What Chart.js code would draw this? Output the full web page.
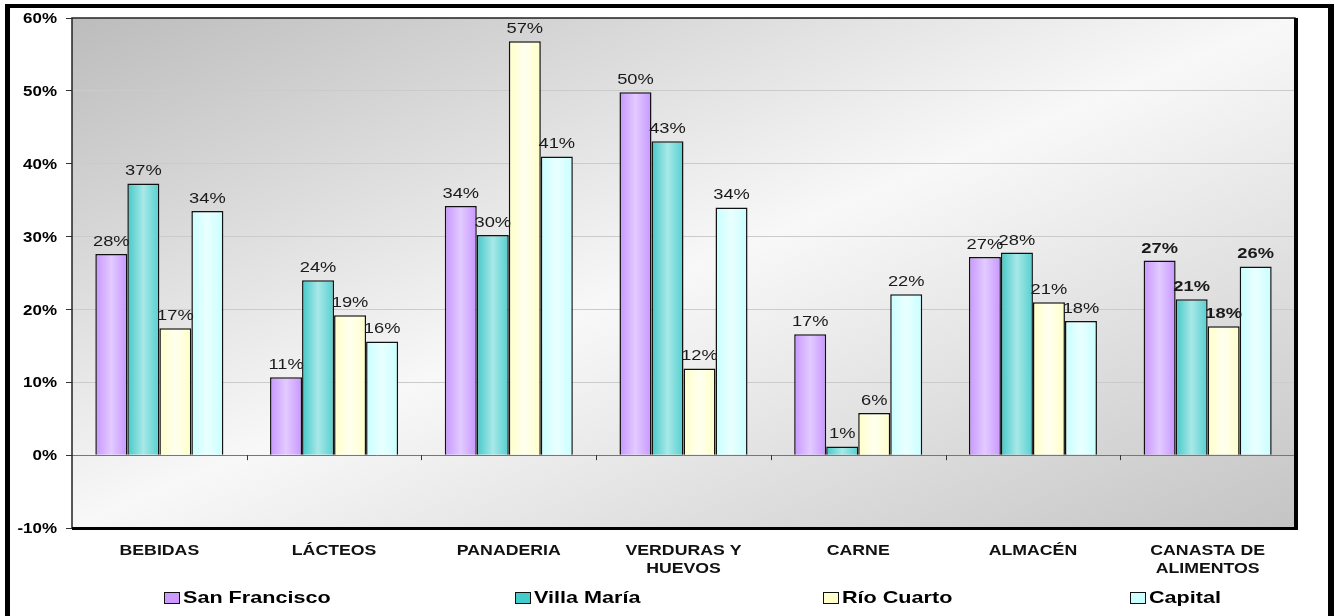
<!DOCTYPE html>
<html>
<head>
<meta charset="utf-8">
<script src="https://cdn.jsdelivr.net/npm/chart.js@4.4.1/dist/chart.umd.min.js"></script>
<style>
  body { margin: 0; background: #fff; font-family: "Liberation Sans", Arial, sans-serif; }
  #frame { position: absolute; left: 5px; top: 4px; width: 1318px; height: 620px;
           border-left: 5px solid #000; border-top: 4px solid #000; border-right: 6px solid #000; }
  #box { position: absolute; left: 0; top: 0; width: 1317px; height: 608px; }
  .item { position: absolute; top: 580px; height: 20px; display: flex; align-items: center;
          font-weight: bold; font-size: 17px; color: #000; white-space: nowrap; }
  .item:nth-child(1) { left: 154px; }
  .item:nth-child(2) { left: 505px; }
  .item:nth-child(3) { left: 813px; }
  .item:nth-child(4) { left: 1120px; }
  .sw { width: 14px; height: 10px; border: 1.6px solid #111; margin-right: 3px; }
  .tx { display: inline-block; transform: scaleX(1.27); transform-origin: left center; }
</style>
</head>
<body>
<div id="frame">
  <div id="box"><canvas id="grafico"></canvas></div>
  <div id="legend"></div>
</div>
<script>
// Datos del gráfico
const categorias = ["BEBIDAS", "LÁCTEOS", "PANADERIA", ["VERDURAS Y", "HUEVOS"], "CARNE", "ALMACÉN", ["CANASTA DE", "ALIMENTOS"]];
const sanFrancisco = [27.6, 10.7, 34.2, 49.8, 16.6, 27.2, 26.7];
const villaMaria   = [37.3, 24.0, 30.2, 43.1, 1.2, 27.8, 21.4];
const rioCuarto    = [17.4, 19.2, 56.8, 11.9, 5.8, 21.0, 17.7];
const capital      = [33.5, 15.6, 41.0, 34.0, 22.1, 18.4, 25.9];
const ticksY = [-10, 0, 10, 20, 30, 40, 50, 60];

const series = [
  { nombre: "San Francisco", datos: sanFrancisco, color: "#cc99ff", grad: ["#c896ff", "#e2cbff", "#c896ff"] },
  { nombre: "Villa María", datos: villaMaria, color: "#44cccc", grad: ["#44c8c8", "#a8e8e8", "#55cfcf"] },
  { nombre: "Río Cuarto", datos: rioCuarto, color: "#ffffcc", grad: ["#ffffc8", "#fffff0", "#ffffc8"] },
  { nombre: "Capital", datos: capital, color: "#ccffff", grad: ["#c8ffff", "#eaffff", "#c8ffff"] }
];

const FUENTE = '"Liberation Sans", Arial, sans-serif';

// leyenda en html
const legend = document.getElementById("legend");
series.forEach(s => {
  const d = document.createElement("div");
  d.className = "item";
  d.innerHTML = `<span class="sw" style="background:${s.color}"></span><span class="tx">${s.nombre}</span>`;
  legend.appendChild(d);
});

// texto estirado a lo ancho (el original está escalado horizontalmente)
function texto(ctx, s, x, y, align, font, sx) {
  ctx.save();
  ctx.translate(x, y);
  ctx.scale(sx, 1);
  ctx.font = font;
  ctx.textAlign = align;
  ctx.fillText(s, 0, 0);
  ctx.restore();
}

const fondoPlugin = {
  id: "fondo",
  beforeDraw(chart) {
    // fondo degradado del área de trazado
    const { ctx, chartArea: a } = chart;
    const W = a.right - a.left, H = a.bottom - a.top;
    const cx = a.left + W / 2, cy = a.top + H / 2;
    const k = (W * H) / (H * H + W * W);
    const g = ctx.createLinearGradient(cx - k * H, cy - k * W, cx + k * H, cy + k * W);
    g.addColorStop(0, "#bcbcbc");
    g.addColorStop(0.5, "#f8f8f8");
    g.addColorStop(1, "#c4c4c4");
    ctx.save();
    ctx.fillStyle = g;
    ctx.fillRect(a.left, a.top, W, H);
    ctx.restore();
  },
  beforeDatasetsDraw(chart) {
    // degradado horizontal en cada barra
    const ctx = chart.ctx;
    chart.data.datasets.forEach((ds, i) => {
      chart.getDatasetMeta(i).data.forEach(el => {
        const g = ctx.createLinearGradient(el.x - el.width / 2, 0, el.x + el.width / 2, 0);
        g.addColorStop(0, series[i].grad[0]);
        g.addColorStop(0.5, series[i].grad[1]);
        g.addColorStop(1, series[i].grad[2]);
        el.options.backgroundColor = g;
      });
    });
  },
  afterDatasetsDraw(chart) {
    const { ctx, chartArea: a, scales } = chart;
    ctx.save();
    ctx.textBaseline = "alphabetic";
    ctx.fillStyle = "#1a1a1a";
    // etiquetas de valores
    chart.data.datasets.forEach((ds, i) => {
      chart.getDatasetMeta(i).data.forEach((el, j) => {
        const f = (j === 6 ? "bold " : "") + "15px " + FUENTE;
        texto(ctx, Math.round(ds.data[j]) + "%", el.x, el.y - 8, "center", f, 1.22);
      });
    });
    // etiquetas del eje Y
    ctx.fillStyle = "#000";
    ctx.textBaseline = "middle";
    ticksY.forEach(v => {
      texto(ctx, v + "%", a.left - 15, scales.y.getPixelForValue(v) + 1, "right", "bold 15px " + FUENTE, 1.13);
    });
    // etiquetas de categorías
    ctx.fillStyle = "#111";
    categorias.forEach((c, i) => {
      const lineas = Array.isArray(c) ? c : [c];
      const x = scales.x.getPixelForValue(i);
      lineas.forEach((l, n) => {
        texto(ctx, l, x, a.bottom + 23 + n * 18, "center", "bold 15px " + FUENTE, 1.18);
      });
    });
    // marcas del eje de categorías sobre la línea del 0
    const y0 = scales.y.getPixelForValue(0);
    ctx.strokeStyle = "#333";
    ctx.lineWidth = 1;
    for (let i = 0; i < categorias.length - 1; i++) {
      const xm = (scales.x.getPixelForValue(i) + scales.x.getPixelForValue(i + 1)) / 2;
      ctx.beginPath();
      ctx.moveTo(Math.round(xm) + 0.5, y0);
      ctx.lineTo(Math.round(xm) + 0.5, y0 + 5);
      ctx.stroke();
    }
    // marco del área de trazado
    ctx.strokeStyle = "#222";
    ctx.lineWidth = 1.5;
    ctx.strokeRect(a.left, a.top, a.right - a.left, a.bottom - a.top);
    ctx.fillStyle = "#000";
    ctx.fillRect(a.left, a.bottom - 1, a.right - a.left + 3, 3);
    ctx.fillRect(a.right - 1, a.top, 4, a.bottom - a.top + 2);
    ctx.restore();
  }
};

new Chart(document.getElementById("grafico"), {
  type: "bar",
  data: {
    labels: categorias,
    datasets: series.map(s => ({
      label: s.nombre,
      data: s.datos,
      backgroundColor: () => s.color,
      borderColor: "#111",
      borderWidth: 1.5,
      categoryPercentage: 0.733,
      barPercentage: 1
    }))
  },
  options: {
    responsive: true,
    maintainAspectRatio: false,
    animation: false,
    layout: { padding: { top: 10, right: 32, bottom: 0, left: 0 } },
    plugins: { legend: { display: false }, tooltip: { enabled: false } },
    scales: {
      x: {
        afterFit: s => { s.height = 88; },
        grid: { display: false },
        border: { display: false },
        ticks: { display: false }
      },
      y: {
        min: -10, max: 60,
        afterFit: s => { s.width = 62; },
        afterBuildTicks: s => { s.ticks = ticksY.map(v => ({ value: v })); },
        grid: {
          color: c => c.tick && c.tick.value === 0 ? "#777" : "#cbcbcb",
          tickColor: "#333",
          tickLength: 6
        },
        border: { display: false },
        ticks: { display: false }
      }
    }
  },
  plugins: [fondoPlugin]
});
</script>
</body>
</html>
